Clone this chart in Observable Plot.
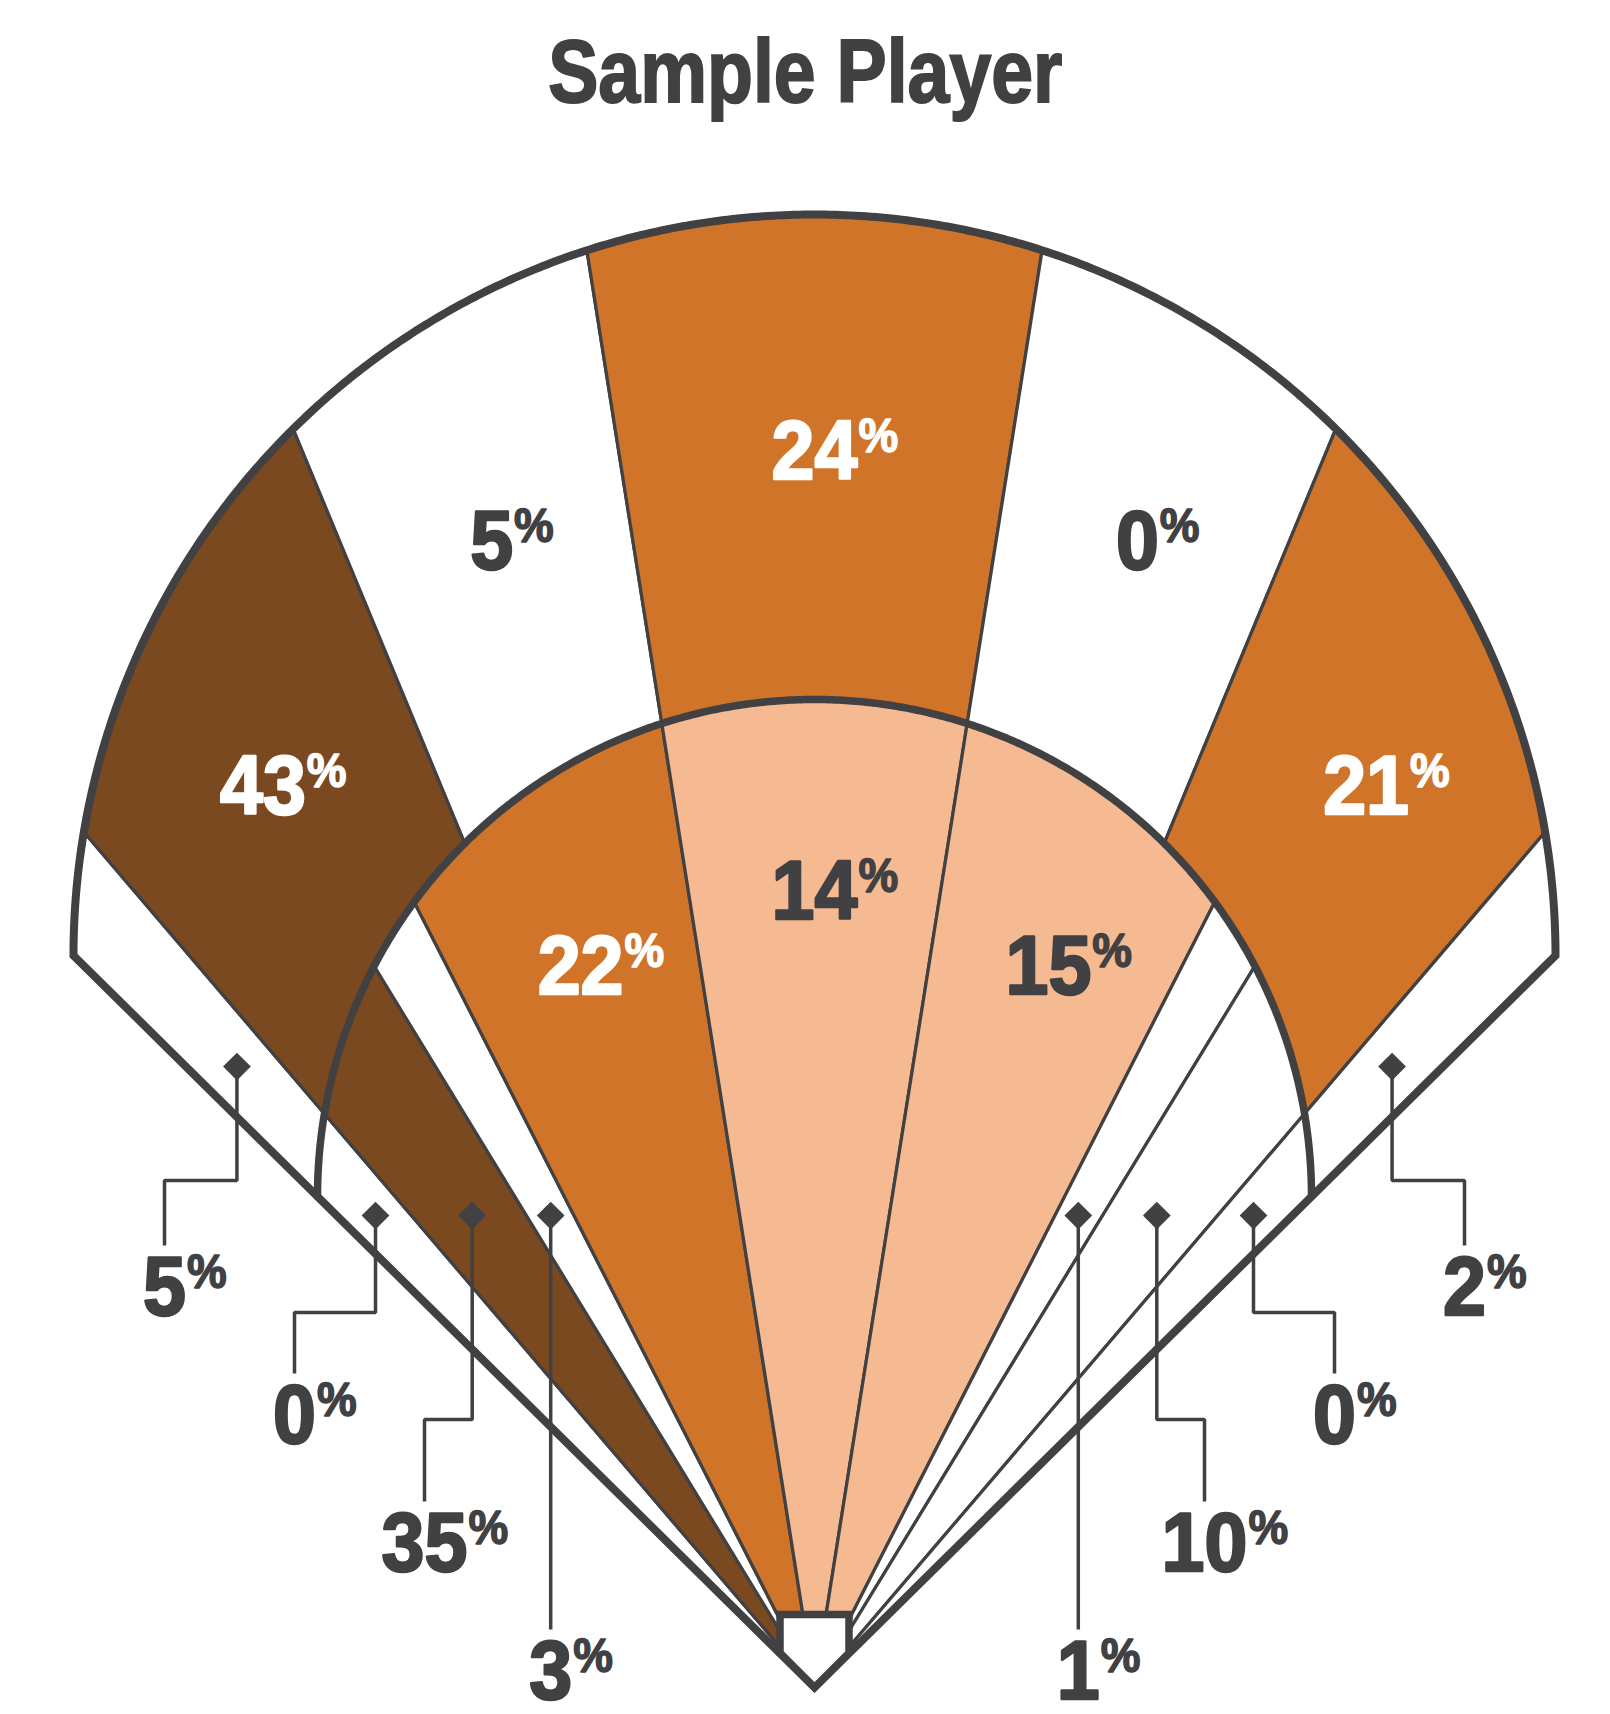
<!DOCTYPE html>
<html><head><meta charset="utf-8">
<script src="https://cdn.jsdelivr.net/npm/d3@7"></script>
<script src="https://cdn.jsdelivr.net/npm/@observablehq/plot@0.6"></script>
<style>
body{margin:0;background:#fff;}
#title{width:1610px;height:140px;line-height:143px;text-align:center;overflow:visible;white-space:nowrap;}
#title span{display:inline-block;transform:scaleX(0.845);transform-origin:50% 50%;font-family:"Liberation Sans",Arial,sans-serif;font-weight:bold;font-size:89px;color:#414042;-webkit-text-stroke:2px #414042;}
#chart{width:1610px;height:1574px;}
</style></head><body>
<div id="title"><span>Sample Player</span></div>
<div id="chart"></div>
<script>
// ---- data ----
const outfieldZones = ["Left foul", "Left", "Left-center", "Center", "Right-center", "Right", "Right foul"];
const outfieldValues = [5, 43, 5, 24, 0, 21, 2];
const infieldZones = ["3B foul", "3B line", "3B hole", "Shortstop", "Middle", "Second", "1B hole", "1B line", "1B foul"];
const infieldValues = [0, 35, 3, 22, 14, 15, 1, 10, 0];
// interior zone edges, degrees from straightaway center (negative = left field)
const outfieldEdges = [-40.5, -22.5, -9, 9, 22.5, 40.5];
const infieldEdges = [-40.5, -31.4, -27, -9, 9, 27, 31.4, 40.5];
const colorSteps = [12, 20, 30];
const colorRange = ["#ffffff", "#f5ba92", "#cf7428", "#7b491f"];

// ---- layout ----
const DARK = "#414042";
const FONT = '"Liberation Sans",Arial,sans-serif';
const SX = 0.93;                          // horizontal condensing of label type
const H = {x: 814, y: 1687};              // home plate tip
const OUT = {cy: 955, r: 741};             // outfield fence
const INN = {cy: 1196, r: 497};            // infield arc
const calloutJog = [108, 104, 125];        // jog height above label, per row
const rad = Math.PI / 180;
const FOUL = Math.atan2(OUT.r, H.y - OUT.cy) / rad;
function reach(theta, c0) {
  const c = Math.cos(theta * rad), d = H.y - c0.cy;
  return d * c + Math.sqrt(d * d * c * c - d * d + c0.r * c0.r);
}
function pt(theta, t) { return [H.x + t * Math.sin(theta * rad), H.y - t * Math.cos(theta * rad)]; }
function arc(a, b, c0) {
  const n = Math.max(2, Math.ceil(Math.abs(b - a) / 0.2));
  return d3.range(n + 1).map(i => { const th = a + (b - a) * i / n; return pt(th, reach(th, c0)); });
}

const oEdges = [-FOUL, ...outfieldEdges, FOUL];
const iEdges = [-FOUL, ...infieldEdges, FOUL];
const zones = [
  ...outfieldZones.map((name, i) => ({ring: "outfield", name, value: outfieldValues[i], a: oEdges[i], b: oEdges[i + 1]})),
  ...infieldZones.map((name, i) => ({ring: "infield", name, value: infieldValues[i], a: iEdges[i], b: iEdges[i + 1]}))
];
zones.forEach((z, k) => { z.id = k; z.mid = (z.a + z.b) / 2; z.callout = (z.b - z.a) < 10; });

const polyPts = zones.flatMap(z => {
  const ring = z.ring === "outfield"
    ? [...arc(z.a, z.b, OUT), ...arc(z.b, z.a, INN)]
    : [[H.x, H.y], ...arc(z.a, z.b, INN)];
  ring.push(ring[0]);
  return ring.map(([x, y]) => ({id: z.id, value: z.value, x, y}));
});

const boundary = [...arc(0, FOUL, OUT), [H.x, H.y], ...arc(-FOUL, 0, OUT)].map(([x, y]) => ({x, y}));
const innerArc = arc(-FOUL, FOUL, INN).map(([x, y]) => ({x, y}));
const PW = 34.5, PH = 73;
const plate = [[H.x, H.y - PH], [H.x + PW, H.y - PH], [H.x + PW, H.y - PW], [H.x, H.y], [H.x - PW, H.y - PW], [H.x - PW, H.y - PH], [H.x, H.y - PH]].map(([x, y]) => ({x, y}));

const NUM = 83, PCT = 48, DIGIT = 0.556 * NUM * SX;
const inline = zones.filter(z => !z.callout).map(z => {
  const ti = reach(z.mid, INN);
  const t = z.ring === "outfield" ? ti + 0.51 * (reach(z.mid, OUT) - ti) : 0.805 * ti;
  const [x, y] = pt(z.mid, t);
  return {...z, x, y};
});

const sideSort = s => (p, q) => (s * (p.mid - q.mid)) || (p.ring === "outfield" ? -1 : 1);
const leftC = zones.filter(z => z.callout && z.mid < 0).sort(sideSort(1));
const rightC = zones.filter(z => z.callout && z.mid > 0).sort(sideSort(-1));
const callouts = [];
[[leftC, -1], [rightC, 1]].forEach(([list, side]) => list.forEach((z, r) => {
  const dy = z.ring === "outfield" ? H.y - 621 : H.y - 472;
  const dx = H.x + (H.y - dy) * Math.tan(z.mid * rad);
  let lx = H.x + side * (650 - 130 * r);
  if (Math.abs(lx - dx) < 10) lx = dx;
  const ly = H.y - 399 + 128 * r;
  const end = ly - 43;
  const jog = ly - (calloutJog[r] ?? 108);
  const path = Math.abs(lx - dx) < 0.5 ? [[dx, dy], [lx, end]] : [[dx, dy], [dx, jog], [lx, jog], [lx, end]];
  callouts.push({...z, dx, dy, x: lx, y: ly, path});
}));
const calloutPts = callouts.flatMap(c => c.path.map(([x, y]) => ({id: c.id, x, y})));

const labels = [...inline, ...callouts].map(d => ({...d, txt: String(d.value), light: d.value >= 20 && !d.callout,
  px: d.x + String(d.value).length * DIGIT / 2 + 1}));
const ink = d => d.light ? "white" : DARK;

const textBase = {fontFamily: FONT, fontWeight: "bold", fill: ink, stroke: ink, strokeWidth: 2.5, strokeLinejoin: "round"};
const chart = Plot.plot({
  width: 1610, height: 1574, margin: 0,
  x: {domain: [0, 1610], range: [0, 1610], axis: null},
  y: {domain: [140, 1714], range: [0, 1574], axis: null},
  color: {type: "threshold", domain: colorSteps, range: colorRange},
  style: {background: "white", overflow: "visible"},
  marks: [
    Plot.line(polyPts, {x: "x", y: "y", z: "id", fill: "value", stroke: DARK, strokeWidth: 3.2, strokeLinejoin: "round"}),
    Plot.line(innerArc, {x: "x", y: "y", stroke: DARK, strokeWidth: 7.5}),
    Plot.line(boundary, {x: "x", y: "y", stroke: DARK, strokeWidth: 8, strokeLinejoin: "miter", strokeMiterlimit: 10}),
    Plot.line(calloutPts, {x: "x", y: "y", z: "id", stroke: DARK, strokeWidth: 3.5, strokeLinejoin: "miter", strokeLinecap: "butt"}),
    Plot.dot(callouts, {x: "dx", y: "dy", symbol: "diamond2", r: 12.5, fill: DARK, stroke: null}),
    Plot.line(plate, {x: "x", y: "y", fill: "white", stroke: DARK, strokeWidth: 7.5, strokeLinejoin: "miter", strokeMiterlimit: 10}),
    Plot.text(labels, {...textBase, x: "x", y: "y", text: "txt", fontSize: NUM, textAnchor: "middle"}),
    Plot.text(labels, {...textBase, x: "px", y: "y", text: () => "%", fontSize: PCT, textAnchor: "start", dy: -15.7, strokeWidth: 1.5})
  ]
});
document.getElementById("chart").append(chart);
// condense the label type horizontally (glyphs squeezed in place, anchors unchanged)
chart.querySelectorAll("text").forEach(el => {
  const w = el.getComputedTextLength();
  if (w > 0) {
    el.setAttribute("textLength", (w * SX).toFixed(2));
    el.setAttribute("lengthAdjust", "spacingAndGlyphs");
  }
});
</script>
</body></html>
